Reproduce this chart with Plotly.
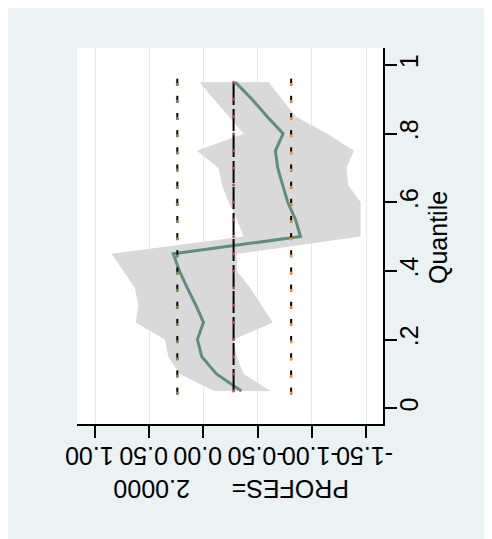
import plotly.graph_objects as go

# ---- data ----
quantiles = [0.05, 0.10, 0.15, 0.20, 0.25, 0.30, 0.35, 0.40, 0.45, 0.50,
             0.55, 0.60, 0.65, 0.70, 0.75, 0.80, 0.85, 0.90, 0.95]
coef = [-0.35, -0.12, 0.015, 0.056, 0.0, 0.07, 0.148, 0.222, 0.278, -0.895,
        -0.849, -0.778, -0.731, -0.685, -0.664, -0.735, -0.587, -0.448, -0.293]
ci_hi = [-0.10, 0.22, 0.324, 0.355, 0.625, 0.602, 0.632, 0.741, 0.848, -0.37,
         -0.31, -0.232, -0.17, -0.139, 0.061, -0.370, -0.232, -0.093, 0.037]
ci_lo = [-0.618, -0.37, -0.309, -0.278, -0.64, -0.54, -0.432, -0.309, -0.31, -1.45,
         -1.45, -1.45, -1.335, -1.32, -1.389, -1.142, -0.849, -0.726, -0.602]
ols_coef = -0.278
ols_hi = 0.241
ols_lo = -0.809

value_ticks = [1.0, 0.5, 0.0, -0.5, -1.0, -1.5]
value_ticktext = ["1.00", "0.50", "0.00", "-0.50", "-1.00", "-1.50"]
quant_ticks = [0, 0.2, 0.4, 0.6, 0.8, 1.0]
quant_ticktext = ["0", ".2", ".4", ".6", ".8", "1"]
axis_title_value = "PROFES=\u00a0\u00a0\u00a0\u00a0\u00a0\u00a02.0000"
axis_title_quant = "Quantile"

FONT = "Arial, Liberation Sans, sans-serif"
fig = go.Figure()

# confidence band
fig.add_trace(go.Scatter(
    x=ci_hi + ci_lo[::-1], y=quantiles + quantiles[::-1],
    fill="toself", fillcolor="#D9D9D9", mode="lines",
    line=dict(width=0, color="#D9D9D9"), hoverinfo="skip", showlegend=False))

# quantile regression coefficient
fig.add_trace(go.Scatter(
    x=coef, y=quantiles, mode="lines",
    line=dict(color="#5F8E7C", width=3), showlegend=False))

# OLS coefficient line
fig.add_trace(go.Scatter(
    x=[ols_coef] * len(quantiles), y=quantiles, mode="lines",
    line=dict(color="black", width=2, dash="22px,4px"), showlegend=False))
fig.add_trace(go.Scatter(
    x=[ols_coef] * len(quantiles), y=quantiles, mode="markers",
    marker=dict(color="#C0555A", size=3), showlegend=False))

# OLS confidence bounds
for val, col in [(ols_hi, "#6E9A4A"), (ols_lo, "#EE9444")]:
    fig.add_trace(go.Scatter(
        x=[val] * len(quantiles), y=quantiles, mode="markers",
        marker=dict(symbol="line-ns", size=5, color="black",
                    line=dict(color="black", width=2)),
        showlegend=False))
    fig.add_trace(go.Scatter(
        x=[val] * len(quantiles), y=[q - 0.006 for q in quantiles], mode="markers",
        marker=dict(color=col, size=3), showlegend=False))

# page offset of 8px (body margin) -> figure pixel coordinates
OFF = 8
W, H = 492 - OFF, 539 - OFF
L, T = 77 - OFF, 48 - OFF
R = W - (383 - OFF)
B = H - (424 - OFF)
pw, ph = W - L - R, H - T - B

def px(xp):
    return (xp - OFF - L) / pw

def py(yp):
    return (H - B - (yp - OFF)) / ph

fig.update_layout(
    width=W, height=H,
    margin=dict(l=L, r=R, t=T, b=B, pad=0),
    paper_bgcolor="#EAF2F3", plot_bgcolor="white",
    font=dict(family=FONT, color="black"),
    xaxis=dict(range=[1.1665, -1.6564], tickvals=value_ticks, ticktext=value_ticktext,
               tickangle=180, ticks="outside", ticklen=12, tickwidth=1.5, tickcolor="black",
               showline=True, linecolor="black", linewidth=1.5,
               showgrid=True, gridcolor="#E1ECEE", gridwidth=1, zeroline=False,
               ticklabelstandoff=4, ticklabelshift=30,
               tickfont=dict(size=25, family=FONT, color="black")),
    yaxis=dict(range=[-0.046, 1.0495], side="right", tickvals=quant_ticks,
               ticktext=quant_ticktext, tickangle=-90, ticks="outside", ticklen=12,
               tickwidth=1.5, tickcolor="black", showline=True, linecolor="black",
               linewidth=1.5, showgrid=False, zeroline=False,
               ticklabelstandoff=-9,
               tickfont=dict(size=25, family=FONT, color="black")),
    annotations=[
        dict(text=axis_title_value, xref="paper", yref="paper", x=px(231), y=py(489),
             textangle=180, showarrow=False, xanchor="center", yanchor="middle",
             font=dict(size=25, family=FONT, color="black")),
        dict(text=axis_title_quant, xref="paper", yref="paper", x=px(438), y=py(238),
             textangle=-90, showarrow=False, xanchor="center", yanchor="middle",
             font=dict(size=25, family=FONT, color="black")),
    ],
)

fig.write_html("out.html")
